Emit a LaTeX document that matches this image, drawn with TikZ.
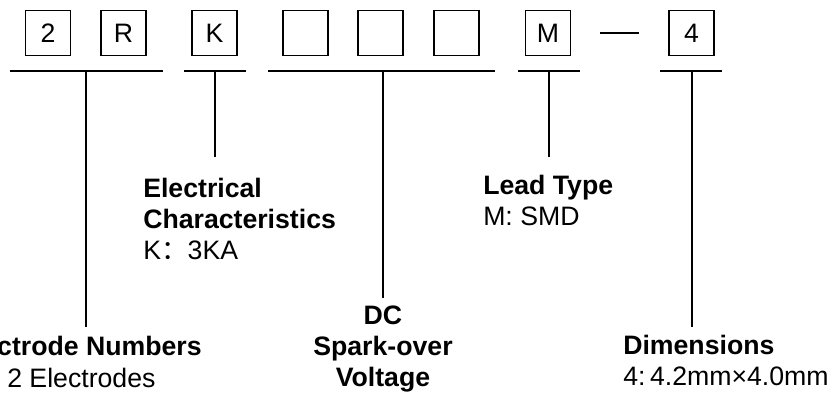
\documentclass[tikz,border=0pt]{standalone}
\usepackage{fontspec}
\setmainfont{Liberation Sans}
\newfontfamily\cjk{Noto Sans CJK SC}

\begin{document}
\begin{tikzpicture}[x=0.75pt,y=0.75pt,yscale=-1,
    digitbox/.style={draw, line width=1.4pt, minimum size=33.75pt, inner sep=0pt, font=\fontsize{20}{23.25}\selectfont},
    desc/.style={inner sep=0pt, font=\fontsize{20}{23.25}\selectfont},
    bar/.style={line width=1.4pt}]
    \useasboundingbox (0,0) rectangle (832,394);

    % Code boxes
    \node [digitbox] (bTwo) at (48,33) {2};
    \node [digitbox] (bR) at (123.5,33) {R};
    \node [digitbox] (bK) at (214.5,33) {K};
    \node [digitbox] (bV1) at (305.5,33) {};
    \node [digitbox] (bV2) at (380.5,33) {};
    \node [digitbox] (bV3) at (456.5,33) {};
    \node [digitbox] (bM) at (548,33) {M};
    \node [digitbox] (bFour) at (691.5,33) {4};
    % Dash
    \coordinate (dashL) at (600,33);
    \coordinate (dashR) at (639,33);
    \draw [bar] (dashL) -- (dashR);

    % Bars under the boxes
    \draw [bar] (10,71) -- (163,71);
    \draw [bar] (184,71) -- (246,71);
    \draw [bar] (268,71) -- (495,71);
    \draw [bar] (518,71) -- (580,71);
    \draw [bar] (660,71) -- (722,71);

    % Text Node
    \node [desc, anchor=north west, align=left] (elec) at (143,178) {\textbf{Electrical}\\\textbf{Characteristics}\\K{\cjk ：}3KA};
    % Text Node
    \node [desc, anchor=north west, align=left] (lead) at (483,174.5) {\textbf{Lead Type}\\M: SMD};
    % Text Node
    \node [desc, anchor=north, align=center] (dcv) at (383,306) {\textbf{DC}\\\textbf{Spark-over}\\\textbf{Voltage}};
    % Text Node
    \node [desc, anchor=north east] (enum) at (202,336) {\textbf{Electrode Numbers}};
    \node [desc, anchor=north west] (enumB) at (7,368) {2 Electrodes};
    % Text Node
    \node [desc, anchor=north west, align=left] (dims) at (623,335) {\textbf{Dimensions}\\4:\hspace{0.17em}4.2mm×4.0mm};

    % Leaders
    \coordinate (tTwo) at (86,71);   \coordinate (eTwo) at (86,327);
    \coordinate (tK) at (215,71);    \coordinate (eK) at (215,157);
    \coordinate (tV) at (383,71);    \coordinate (eV) at (383,298);
    \coordinate (tM) at (549,71);    \coordinate (eM) at (549,157);
    \coordinate (tFour) at (692,71); \coordinate (eFour) at (692,327);
    \draw [bar] (tTwo) -- (eTwo);
    \draw [bar] (tK) -- (eK);
    \draw [bar] (tV) -- (eV);
    \draw [bar] (tM) -- (eM);
    \draw [bar] (tFour) -- (eFour);
\end{tikzpicture}
\end{document}
